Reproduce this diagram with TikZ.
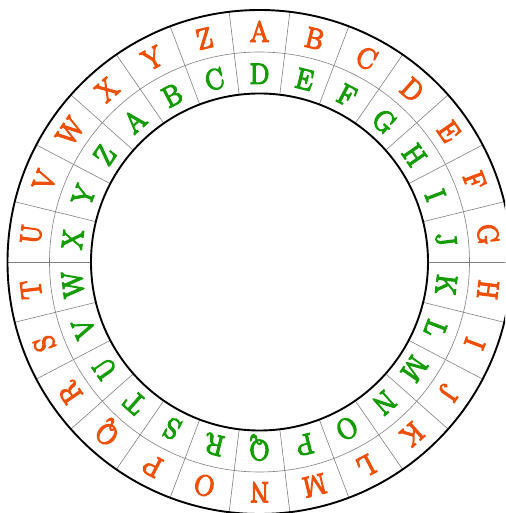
\documentclass[tikz,border=0pt]{standalone}
\usepackage{fontspec}
\usepackage{xcolor}
\newfontfamily\wheelfont{Latin Modern Roman}[FakeBold=5, FakeStretch=0.95]
\definecolor{plainred}{RGB}{238,80,10}
\definecolor{ciphergreen}{RGB}{22,156,8}

\begin{document}
\begin{tikzpicture}[x=1pt, y=1pt,
  every node/.style={font=\wheelfont\fontsize{29}{29}\selectfont, inner sep=0pt, text height=19.5pt, text depth=0pt, anchor=center},
  rim/.style={line width=1.9pt},
  sector/.style={black!50, line width=0.6pt},
  plainletter/.style={text=plainred},
  cipherletter/.style={text=ciphergreen}]
  \useasboundingbox (-259.5,-251) rectangle (245.5,262);
  \clip (-259.5,-251) rectangle (245.5,262);
  \coordinate (hub) at (0,0);
  % sector lines and middle ring
  \draw[sector] (hub) circle (210);
  \foreach \k in {0,...,25}
    \draw[sector] ({90+180/26+\k*360/26}:168.5) -- ({90+180/26+\k*360/26}:252);
  \draw[rim] (hub) circle (252);
  \draw[rim] (hub) circle (168.5);
  % outer ring: plain alphabet
  \foreach \ltr [count=\k from 0] in {A,...,Z}
    \node[plainletter, rotate={-\k*360/26}] (plain-\ltr) at ({90-\k*360/26}:230) {\ltr};
  % inner ring: shifted by three
  \foreach \ltr [count=\k from 0] in {D,...,Z,A,B,C}
    \node[cipherletter, rotate={-\k*360/26}] (cipher-\ltr) at ({90-\k*360/26}:188) {\ltr};
\end{tikzpicture}
\end{document}
